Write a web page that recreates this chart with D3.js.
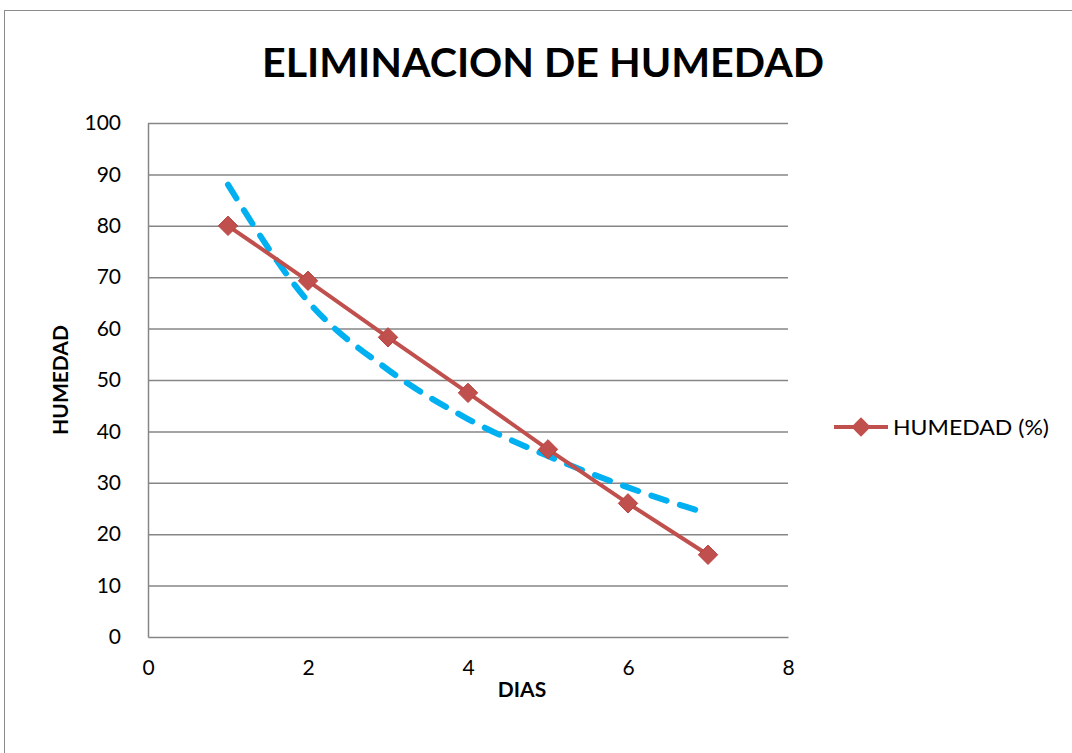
<!DOCTYPE html>
<html>
<head>
<meta charset="utf-8">
<script src="https://cdn.jsdelivr.net/npm/d3@7"></script>
<style>
  body { margin: 0; background: #fff; }
  text { font-family: Lato, "Open Sans", sans-serif; }
</style>
</head>
<body>
<svg width="1072" height="753"></svg>
<script>
// data
let dias = [1, 2, 3, 4, 5, 6, 7];
let humedad = [80, 69.3, 58.3, 47.5, 36.5, 26, 16];
// dashed trend curve, read at each day
let tendencia = [88, 65.3, 52, 42.4, 35.2, 29.1, 24];
let yTicks = [0, 10, 20, 30, 40, 50, 60, 70, 80, 90, 100];
let xTicks = [0, 2, 4, 6, 8];

let margin = {left: 148, top: 123};
let width = 640;
let height = 514;

let svg = d3.select('svg');

// outer frame of the chart area
svg.append('rect')
  .attr('x', 4.5).attr('y', 10.5)
  .attr('width', 1100).attr('height', 800)
  .attr('fill', 'none')
  .attr('stroke', '#8c8c8c')
  .attr('stroke-width', 1);

let graph1 = svg.append('g')
  .attr('transform', `translate(${margin.left}, ${margin.top})`);

const xScale = d3.scaleLinear().domain([0, 8]).range([0, width]);
const yScale = d3.scaleLinear().domain([0, 100]).range([height, 0]);

// grid lines
graph1.append('g')
  .attr('class', 'grid')
  .call(d3.axisLeft(yScale).tickValues(yTicks.slice(1)).tickSize(-width).tickFormat(''))
  .call(g => g.select('.domain').remove())
  .call(g => g.selectAll('line').attr('stroke', '#868686').attr('stroke-width', 1.5));

// y axis
graph1.append('g')
  .call(d3.axisLeft(yScale).tickValues(yTicks).tickSizeInner(0).tickSizeOuter(0).tickPadding(27))
  .call(g => g.select('.domain').attr('stroke', '#868686').attr('stroke-width', 1.5))
  .call(g => g.selectAll('.tick line').remove())
  .call(g => g.selectAll('text').attr('font-size', 21).attr('fill', '#000'));

// x axis
graph1.append('g')
  .attr('transform', `translate(0, ${height})`)
  .call(d3.axisBottom(xScale).tickValues(xTicks).tickSizeInner(0).tickSizeOuter(0).tickPadding(23))
  .call(g => g.select('.domain').attr('stroke', '#868686').attr('stroke-width', 1.5))
  .call(g => g.selectAll('.tick line').remove())
  .call(g => g.selectAll('text').attr('font-size', 21).attr('fill', '#000'));

// trend curve
graph1.append('path')
  .datum(dias.map((d, i) => [d, tendencia[i]]))
  .attr('fill', 'none')
  .attr('stroke', '#00b0f0')
  .attr('stroke-width', 6)
  .attr('stroke-linecap', 'round')
  .attr('stroke-dasharray', '16 14')
  .attr('d', d3.line().x(d => xScale(d[0])).y(d => yScale(d[1])).curve(d3.curveMonotoneX));

// data series
graph1.append('path')
  .datum(dias.map((d, i) => [d, humedad[i]]))
  .attr('fill', 'none')
  .attr('stroke', '#c0504d')
  .attr('stroke-width', 4)
  .attr('d', d3.line().x(d => xScale(d[0])).y(d => yScale(d[1])));

const diamond = d3.symbol().type(d3.symbolDiamond2).size(240);

graph1.selectAll('.marker')
  .data(dias.map((d, i) => [d, humedad[i]]))
  .enter()
  .append('path')
  .attr('class', 'marker')
  .attr('transform', d => `translate(${xScale(d[0])}, ${yScale(d[1])})`)
  .attr('d', diamond)
  .attr('fill', '#c0504d')
  .attr('stroke', '#b9433f')
  .attr('stroke-width', 1);

// legend
let legend = svg.append('g').attr('transform', 'translate(834, 427)');
legend.append('line')
  .attr('x1', 0).attr('x2', 54)
  .attr('stroke', '#c0504d').attr('stroke-width', 4);
legend.append('path')
  .attr('transform', 'translate(27, 0)')
  .attr('d', diamond)
  .attr('fill', '#c0504d');
legend.append('text')
  .attr('x', 59).attr('y', 8)
  .attr('font-size', 22)
  .attr('textLength', 156)
  .attr('lengthAdjust', 'spacingAndGlyphs')
  .text('HUMEDAD (%)');

// labels
svg.append('text')
  .attr('x', 543).attr('y', 77)
  .attr('text-anchor', 'middle')
  .attr('font-size', 41)
  .attr('font-weight', 'bold')
  .attr('textLength', 562)
  .attr('lengthAdjust', 'spacingAndGlyphs')
  .text('ELIMINACION DE HUMEDAD');

svg.append('text')
  .attr('transform', 'translate(68, 380) rotate(-90)')
  .attr('text-anchor', 'middle')
  .attr('font-size', 21)
  .attr('font-weight', 'bold')
  .text('HUMEDAD');

svg.append('text')
  .attr('x', 522).attr('y', 697)
  .attr('text-anchor', 'middle')
  .attr('font-size', 21)
  .attr('font-weight', 'bold')
  .text('DIAS');
</script>
</body>
</html>
